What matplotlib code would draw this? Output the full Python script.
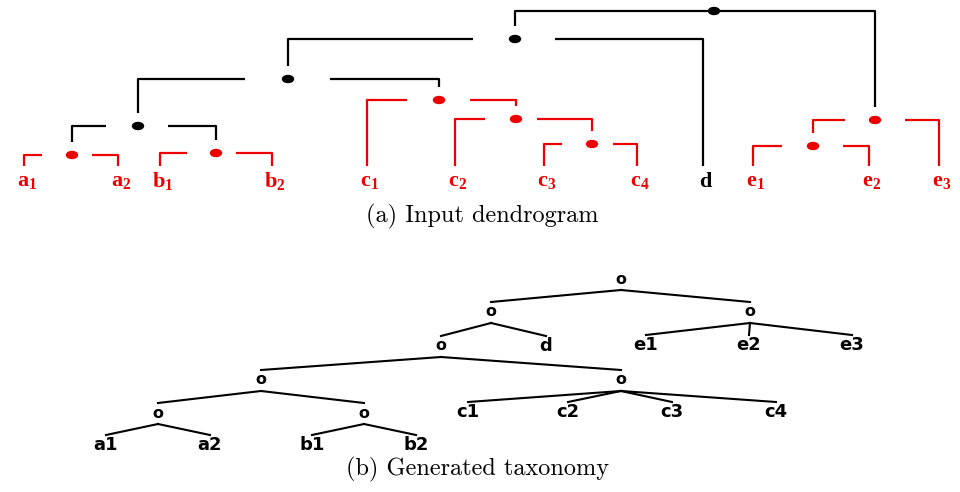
import matplotlib.pyplot as plt
from matplotlib.patches import Ellipse

plt.rcParams['mathtext.fontset'] = 'custom'
plt.rcParams['mathtext.rm'] = 'Liberation Serif'
plt.rcParams['mathtext.bf'] = 'Liberation Serif:bold'

RED = '#ee0000'

# --- (a) dendrogramme d'entrée ---
leaf_names = ['a1', 'a2', 'b1', 'b2', 'c1', 'c2', 'c3', 'c4', 'd', 'e1', 'e2', 'e3']
leaf_colors = [RED] * 8 + ['black'] + [RED] * 3
leaf_x = [24, 118, 160, 272, 367, 455, 544, 637, 703, 753, 869, 939]

# noeud : (gauche, droite, x, y, couleur, écart gauche, écart droit)
merge_names = ['A', 'B', 'AB', 'C34', 'C234', 'C', 'ABC', 'ABCD', 'E12', 'E', 'ROOT']
merge_left = ['a1', 'b1', 'A', 'c3', 'c2', 'c1', 'AB', 'ABC', 'e1', 'E12', 'ABCD']
merge_right = ['a2', 'b2', 'B', 'c4', 'C34', 'C234', 'C', 'd', 'e2', 'e3', 'E']
merge_x = [72, 216, 138, 592, 516, 439, 288, 515, 813, 875, 714]
merge_y = [155, 153, 126, 144, 119, 100, 79, 39, 146, 120, 11]
merge_colors = [RED, RED, 'black', RED, RED, RED, 'black', 'black', RED, RED, 'black']
gaps = [(30, 20), (29, 20), (32, 30), (30, 21), (31, 21), (32, 31),
        (43, 42), (42, 40), (31, 30), (30, 30), (0, 0)]

# --- (b) taxonomie générée ---
tax_names = ['root', 'abcd', 'e', 'abc', 'd', 'e1', 'e2', 'e3', 'ab', 'c',
             'a', 'b', 'c1', 'c2', 'c3', 'c4', 'a1', 'a2', 'b1', 'b2']
tax_labels = ['o', 'o', 'o', 'o', 'd', 'e1', 'e2', 'e3', 'o', 'o',
              'o', 'o', 'c1', 'c2', 'c3', 'c4', 'a1', 'a2', 'b1', 'b2']
tax_x = [621, 491, 750, 441, 546, 646, 749, 852, 261, 621,
         158, 364, 468, 568, 672, 776, 106, 210, 312, 416]
tax_y = [279, 312, 312, 346, 346, 345, 345, 345, 380, 380,
         413, 413, 412, 412, 412, 412, 445, 445, 445, 445]
tax_edges = [('root', 'abcd'), ('root', 'e'), ('abcd', 'abc'), ('abcd', 'd'),
             ('e', 'e1'), ('e', 'e2'), ('e', 'e3'), ('abc', 'ab'), ('abc', 'c'),
             ('ab', 'a'), ('ab', 'b'), ('c', 'c1'), ('c', 'c2'), ('c', 'c3'),
             ('c', 'c4'), ('a', 'a1'), ('a', 'a2'), ('b', 'b1'), ('b', 'b2')]

fig = plt.figure(figsize=(9.6, 4.92), dpi=100)
ax = fig.add_axes([0, 0, 1, 1])
ax.set_xlim(0, 960)
ax.set_ylim(492, 0)
ax.axis('off')

# positions des noeuds du dendrogramme
pos = {}
for n, x in zip(leaf_names, leaf_x):
    pos[n] = (x, None)
for n, x, y in zip(merge_names, merge_x, merge_y):
    pos[n] = (x, y)

LEAF_BOTTOM = 166
lw = 1.6
for n, l, r, x, y, col, (gl, gr) in zip(merge_names, merge_left, merge_right,
                                        merge_x, merge_y, merge_colors, gaps):
    xl, yl = pos[l]
    xr, yr = pos[r]
    yl_end = LEAF_BOTTOM if yl is None else yl - 13
    yr_end = LEAF_BOTTOM if yr is None else yr - 13
    ax.plot([xl, xl, x - gl], [yl_end, y, y], color=col, lw=lw, solid_capstyle='butt')
    ax.plot([x + gr, xr, xr], [y, y, yr_end], color=col, lw=lw, solid_capstyle='butt')
    ax.add_patch(Ellipse((x, y), 11, 7, color=col, zorder=3))

for n, x, col in zip(leaf_names, leaf_x, leaf_colors):
    lab = r'$\mathbf{%s}$' % n if len(n) == 1 else r'$\mathbf{%s_{%s}}$' % (n[0], n[1:])
    ax.text(x + 3, 181, lab, color=col, fontsize=16, ha='center', va='center')

ax.text(482, 222, '(a) Input dendrogram', family='cmr10', fontsize=17.5,
        ha='center', va='baseline')

# taxonomie
tpos = {n: (x, y) for n, x, y in zip(tax_names, tax_x, tax_y)}
for p, c in tax_edges:
    px, py = tpos[p]
    cx, cy = tpos[c]
    ax.plot([px, cx], [py + 11, cy - 10], color='black', lw=1.5)

for n, lab in zip(tax_names, tax_labels):
    x, y = tpos[n]
    if lab == 'o':
        ax.text(x, y, lab, fontsize=11.5, fontweight='bold', ha='center', va='center',
                family='DejaVu Sans')
    else:
        ax.text(x, y, lab, fontsize=13, fontweight='bold', ha='center', va='center',
                family='DejaVu Sans')

ax.text(478, 475, '(b) Generated taxonomy', family='cmr10', fontsize=17.5,
        ha='center', va='baseline')

fig.savefig('out.png', dpi=100)
